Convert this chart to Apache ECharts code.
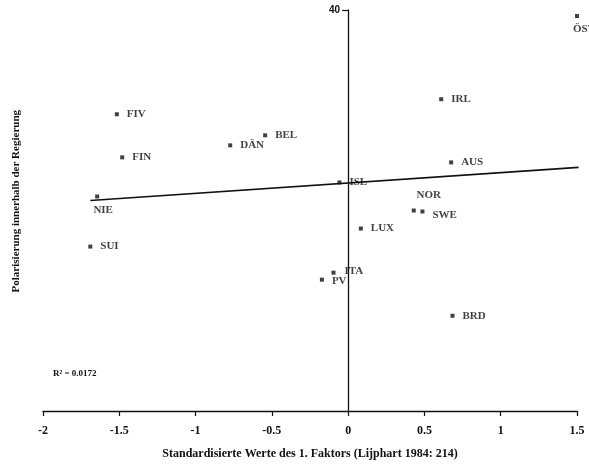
<!DOCTYPE html>
<html>
<head>
<meta charset="utf-8">
<script src="https://cdn.jsdelivr.net/npm/echarts@6/dist/echarts.min.js"></script>
<style>html,body{margin:0;padding:0;background:#fff}#c{width:589px;height:467px}</style>
</head>
<body>
<div id="c"></div>
<script>
// Data
const countries = ['ÖST','IRL','AUS','ISL','NOR','SWE','LUX','ITA','PV','BRD','FIV','BEL','DÄN','FIN','NIE','SUI'];
const factorValues = [1.50, 0.61, 0.675, -0.057, 0.43, 0.487, 0.083, -0.096, -0.172, 0.684, -1.516, -0.544, -0.773, -1.481, -1.645, -1.69];
const polarisation = [39.4, 31.1, 24.8, 22.8, 20.0, 19.9, 18.2, 13.8, 13.1, 9.5, 29.6, 27.5, 26.5, 25.3, 21.4, 16.4];
const regressionX = [-1.69, 1.51];
const regressionY = [21.0, 24.3];
const xTicks = [-2, -1.5, -1, -0.5, 0, 0.5, 1, 1.5];
const yTickLabel = 40;
const rSquared = '0.0172';

// label placement (style only)
const labelStyle = {
  'ÖST': {position: 'bottom', offset: [7, -2]},
  'NIE': {position: 'bottom', offset: [6, -2]},
  'NOR': {position: 'top', offset: [15, 0]},
  'SWE': {position: 'right', offset: [0, 4]},
  'ITA': {position: 'right', offset: [1, -1]},
  'PV':  {position: 'right', offset: [0, 1]}
};

const serif = '"Liberation Serif", "DejaVu Serif", serif';
const pts = countries.map((n, i) => {
  const ls = labelStyle[n] || {position: 'right'};
  return {name: n, value: [factorValues[i], polarisation[i]],
    label: Object.assign({show: true, formatter: '{b}', distance: 8}, ls)};
});
const line = regressionX.map((x, i) => [x, regressionY[i]]);

const gridLeft = 43, gridRight = 12, W = 589;
const xMin = -2, xMax = 1.5;
const plotW = W - gridLeft - gridRight;
const yAxisOffset = -plotW * (0 - xMin) / (xMax - xMin);

const chart = echarts.init(document.getElementById('c'), null, {renderer: 'canvas'});
chart.setOption({
  animation: false,
  backgroundColor: '#fff',
  grid: {left: gridLeft, right: gridRight, top: 10, bottom: 56, containLabel: false},
  xAxis: {
    type: 'value', min: xMin, max: xMax, interval: 0.5,
    axisLine: {onZero: false, lineStyle: {color: '#111', width: 1.3}},
    axisTick: {show: true, length: 5, inside: false, lineStyle: {color: '#111', width: 1.2}},
    splitLine: {show: false},
    axisLabel: {margin: 14, color: '#111', fontFamily: serif, fontWeight: 'bold', fontSize: 12,
      formatter: v => xTicks.includes(v) ? String(v) : ''},
    name: 'Standardisierte Werte des 1. Faktors (Lijphart 1984: 214)',
    nameLocation: 'middle', nameGap: 37,
    nameTextStyle: {color: '#111', fontFamily: serif, fontWeight: 'bold', fontSize: 12}
  },
  yAxis: {
    type: 'value', min: 0, max: 40, interval: 40, offset: yAxisOffset,
    axisLine: {show: true, onZero: false, lineStyle: {color: '#111', width: 1.3}},
    axisTick: {show: true, length: 6, lineStyle: {color: '#111', width: 1.2},
      customValues: [yTickLabel]},
    splitLine: {show: false},
    axisLabel: {margin: 8, color: '#111', fontFamily: 'Arial, "Liberation Sans", sans-serif', fontWeight: 'bold', fontSize: 10,
      formatter: v => v === yTickLabel ? String(v) : ''}
  },
  graphic: [
    {type: 'text', left: 11, top: 110, rotation: Math.PI / 2, originX: 0, originY: 0,
      style: {text: 'Polarisierung innerhalb der Regierung', fill: '#111', font: 'bold 11px ' + serif,
        textAlign: 'center', textVerticalAlign: 'middle'}},
    {type: 'text', left: 53, top: 369,
      style: {text: 'R² = ' + rSquared, fill: '#111', font: 'bold 9px ' + serif}}
  ],
  series: [
    {type: 'line', data: line, symbol: 'none', lineStyle: {color: '#111', width: 1.7}, silent: true, z: 2},
    {type: 'scatter', data: pts, symbol: 'rect', symbolSize: 4,
      itemStyle: {color: '#111'},
      label: {color: '#111', fontFamily: serif, fontWeight: 'bold', fontSize: 11}, z: 3}
  ]
});
</script>
</body>
</html>
